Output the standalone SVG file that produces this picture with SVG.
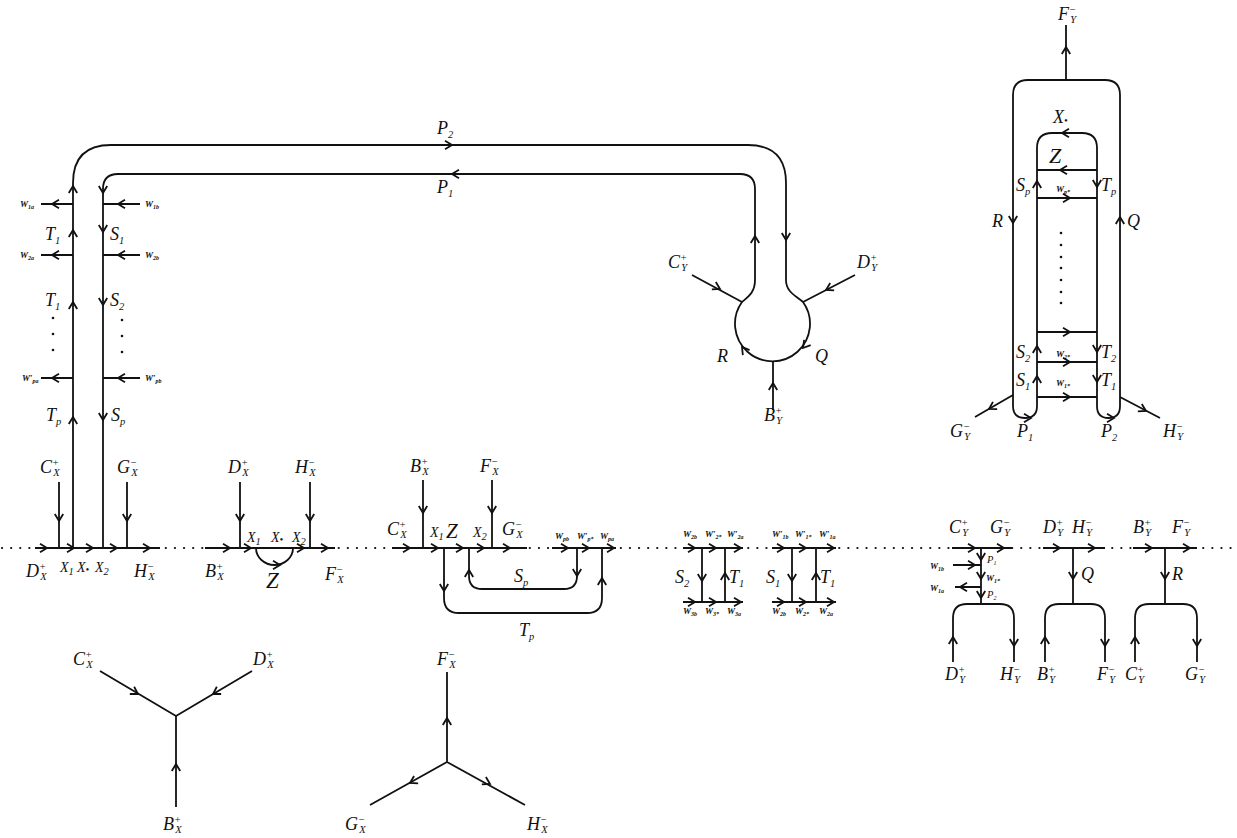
<svg xmlns="http://www.w3.org/2000/svg" width="1237" height="838" viewBox="0 0 1237 838">
<style>
.ln{fill:none;stroke:#111;stroke-width:1.8;stroke-linejoin:round}
.dt{fill:none;stroke:#111;stroke-width:2.2;stroke-dasharray:0.1 9;stroke-linecap:round}
.ah{fill:none;stroke:#111;stroke-width:1.8}
text{font-family:"Liberation Serif","Times New Roman",serif;font-style:italic;fill:#111}
.t{font-size:18px}
.m{font-size:14px}
.z{font-size:23px}
.u{font-size:10.5px}
.w{font-size:9px;font-weight:bold}
.v{font-size:6px}
.dot{fill:#111}
</style>
<defs><path id="a" class="ah" d="M-7,-4.2 L0,0 L-7,4.2"/></defs>
<rect width="1237" height="838" fill="#fff"/>

<g id="connectors">
<path class="dt" d="M2,548 L1237,548"/>
<!-- tube -->
<path class="ln" d="M73,548 L73,183 Q73,145 111,145 L748,145 Q786,145 786,183 L786,280 C786,292 796,296 803,302 A37.5,37.5 0 1 1 742,302 C749,296 755,292 755,280 L755,189 Q755,174 740,174 L118,174 Q103,174 103,189 L103,548"/>
<path class="ln" d="M41,204 L73,204 M103,204 L140,204 M41,255 L73,255 M103,255 L140,255 M41,378 L73,378 M103,378 L140,378"/>
<path class="ln" d="M692,275 L742,302 M855,275 L803,302 M773,361 L773,410"/>
<use href="#a" transform="translate(73,186) rotate(-90)"/>
<use href="#a" transform="translate(73,230) rotate(-90)"/>
<use href="#a" transform="translate(73,302) rotate(-90)"/>
<use href="#a" transform="translate(73,417) rotate(-90)"/>
<use href="#a" transform="translate(452,145)"/>
<use href="#a" transform="translate(786,240) rotate(90)"/>
<use href="#a" transform="translate(755,236) rotate(-90)"/>
<use href="#a" transform="translate(452,174) rotate(180)"/>
<use href="#a" transform="translate(103,193) rotate(90)"/>
<use href="#a" transform="translate(103,232) rotate(90)"/>
<use href="#a" transform="translate(103,305) rotate(90)"/>
<use href="#a" transform="translate(103,420) rotate(90)"/>
<use href="#a" transform="translate(52,204) rotate(180)"/>
<use href="#a" transform="translate(118,204) rotate(180)"/>
<use href="#a" transform="translate(52,255) rotate(180)"/>
<use href="#a" transform="translate(118,255) rotate(180)"/>
<use href="#a" transform="translate(52,378) rotate(180)"/>
<use href="#a" transform="translate(118,378) rotate(180)"/>
<use href="#a" transform="translate(803,348) rotate(129)"/>
<use href="#a" transform="translate(742,347) rotate(233)"/>
<use href="#a" transform="translate(720,289) rotate(28)"/>
<use href="#a" transform="translate(826,290) rotate(152)"/>
<use href="#a" transform="translate(773,383) rotate(-90)"/>

<!-- segment 1 -->
<path class="ln" d="M35,548 L160,548 M59,482 L59,548 M127,482 L127,548"/>
<use href="#a" transform="translate(47,548)"/>
<use href="#a" transform="translate(74,548)"/>
<use href="#a" transform="translate(93,548)"/>
<use href="#a" transform="translate(117,548)"/>
<use href="#a" transform="translate(150,548)"/>
<use href="#a" transform="translate(59,521) rotate(90)"/>
<use href="#a" transform="translate(127,521) rotate(90)"/>

<!-- segment 2 -->
<path class="ln" d="M205,548 L335,548 M240,482 L240,548 M310,482 L310,548 M256,548 A18.5,17 0 0 0 293,548"/>
<use href="#a" transform="translate(230,548)"/>
<use href="#a" transform="translate(251,548)"/>
<use href="#a" transform="translate(280,565)"/>
<use href="#a" transform="translate(304,548)"/>
<use href="#a" transform="translate(328,548)"/>
<use href="#a" transform="translate(240,521) rotate(90)"/>
<use href="#a" transform="translate(310,521) rotate(90)"/>

<!-- segment 3 -->
<path class="ln" d="M392,548 L527,548 M423,480 L423,548 M492,480 L492,548"/>
<path class="ln" d="M469,548 L469,576 Q469,589 482,589 L564,589 Q577,589 577,576 L577,548"/>
<path class="ln" d="M444,548 L444,598 Q444,613 459,613 L587,613 Q602,613 602,598 L602,548"/>
<path class="ln" d="M552,548 L616,548"/>
<use href="#a" transform="translate(410,548)"/>
<use href="#a" transform="translate(438,548)"/>
<use href="#a" transform="translate(463,548)"/>
<use href="#a" transform="translate(484,548)"/>
<use href="#a" transform="translate(510,548)"/>
<use href="#a" transform="translate(423,513) rotate(90)"/>
<use href="#a" transform="translate(492,513) rotate(90)"/>
<use href="#a" transform="translate(469,570) rotate(-90)"/>
<use href="#a" transform="translate(577,576) rotate(90)"/>
<use href="#a" transform="translate(444,591) rotate(90)"/>
<use href="#a" transform="translate(602,578) rotate(-90)"/>
<use href="#a" transform="translate(568,548)"/>
<use href="#a" transform="translate(589,548)"/>
<use href="#a" transform="translate(614,548)"/>

<!-- segments 5,6 -->
<path class="ln" d="M683,548 L743,548 M683,602 L743,602 M702,548 L702,602 M725,548 L725,602"/>
<path class="ln" d="M772,548 L836,548 M772,602 L836,602 M792,548 L792,602 M816,548 L816,602"/>
<use href="#a" transform="translate(695,548)"/>
<use href="#a" transform="translate(716,548)"/>
<use href="#a" transform="translate(741,548)"/>
<use href="#a" transform="translate(695,602)"/>
<use href="#a" transform="translate(716,602)"/>
<use href="#a" transform="translate(741,602)"/>
<use href="#a" transform="translate(702,581) rotate(90)"/>
<use href="#a" transform="translate(725,573) rotate(-90)"/>
<use href="#a" transform="translate(784,548)"/>
<use href="#a" transform="translate(806,548)"/>
<use href="#a" transform="translate(834,548)"/>
<use href="#a" transform="translate(784,602)"/>
<use href="#a" transform="translate(806,602)"/>
<use href="#a" transform="translate(834,602)"/>
<use href="#a" transform="translate(792,581) rotate(90)"/>
<use href="#a" transform="translate(816,573) rotate(-90)"/>

<!-- segments 7,8,9 -->
<path class="ln" d="M952,548 L1012,548 M981,548 L981,604 M953,565 L981,565 M981,587 L955,587 M953,662 L953,618 Q953,604 967,604 L1000,604 Q1014,604 1014,618 L1014,662"/>
<use href="#a" transform="translate(975,548)"/>
<use href="#a" transform="translate(1004,548)"/>
<use href="#a" transform="translate(981,560) rotate(90)"/>
<use href="#a" transform="translate(981,579) rotate(90)"/>
<use href="#a" transform="translate(981,598) rotate(90)"/>
<use href="#a" transform="translate(975,565)"/>
<use href="#a" transform="translate(960,587) rotate(180)"/>
<use href="#a" transform="translate(953,637) rotate(-90)"/>
<use href="#a" transform="translate(1014,646) rotate(90)"/>
<path class="ln" d="M1043,548 L1105,548 M1073,548 L1073,604 M1045,662 L1045,618 Q1045,604 1059,604 L1091,604 Q1105,604 1105,618 L1105,662"/>
<use href="#a" transform="translate(1060,548)"/>
<use href="#a" transform="translate(1095,548)"/>
<use href="#a" transform="translate(1073,579) rotate(90)"/>
<use href="#a" transform="translate(1045,637) rotate(-90)"/>
<use href="#a" transform="translate(1105,646) rotate(90)"/>
<path class="ln" d="M1133,548 L1197,548 M1165,548 L1165,604 M1135,662 L1135,618 Q1135,604 1149,604 L1183,604 Q1197,604 1197,618 L1197,662"/>
<use href="#a" transform="translate(1152,548)"/>
<use href="#a" transform="translate(1190,548)"/>
<use href="#a" transform="translate(1165,579) rotate(90)"/>
<use href="#a" transform="translate(1135,637) rotate(-90)"/>
<use href="#a" transform="translate(1197,646) rotate(90)"/>

<!-- top right -->
<path class="ln" d="M1037,406 L1037,148 Q1037,133 1052,133 L1082,133 Q1097,133 1097,148 L1097,406 Q1097,418 1108.5,418 Q1120,418 1120,406 L1120,95 Q1120,80 1105,80 L1028,80 Q1013,80 1013,95 L1013,406 Q1013,418 1025,418 Q1037,418 1037,406 Z"/>
<path class="ln" d="M1037,170 L1097,170 M1037,198 L1097,198 M1037,332 L1097,332 M1037,362 L1097,362 M1037,397 L1097,397 M1066,25 L1066,80 M1013,395 L975,417 M1120,397 L1160,418"/>
<use href="#a" transform="translate(1062,133) rotate(180)"/>
<use href="#a" transform="translate(1060,170) rotate(180)"/>
<use href="#a" transform="translate(1070,198)"/>
<use href="#a" transform="translate(1070,332)"/>
<use href="#a" transform="translate(1070,362)"/>
<use href="#a" transform="translate(1070,397)"/>
<use href="#a" transform="translate(1066,47) rotate(-90)"/>
<use href="#a" transform="translate(1037,181) rotate(-90)"/>
<use href="#a" transform="translate(1037,346) rotate(-90)"/>
<use href="#a" transform="translate(1037,376) rotate(-90)"/>
<use href="#a" transform="translate(1097,187) rotate(90)"/>
<use href="#a" transform="translate(1097,352) rotate(90)"/>
<use href="#a" transform="translate(1097,382) rotate(90)"/>
<use href="#a" transform="translate(1013,223) rotate(90)"/>
<use href="#a" transform="translate(1120,217) rotate(-90)"/>
<use href="#a" transform="translate(1031,418)"/>
<use href="#a" transform="translate(1114,418)"/>
<use href="#a" transform="translate(989,409) rotate(150)"/>
<use href="#a" transform="translate(1146,411) rotate(28)"/>

<!-- stars -->
<path class="ln" d="M100,671 L176,716 L252,671 M176,716 L176,807"/>
<use href="#a" transform="translate(138,694) rotate(31)"/>
<use href="#a" transform="translate(213,694) rotate(149)"/>
<use href="#a" transform="translate(176,764) rotate(-90)"/>
<path class="ln" d="M447,672 L447,762 M370,805 L447,762 L525,805"/>
<use href="#a" transform="translate(447,718) rotate(-90)"/>
<use href="#a" transform="translate(410,783) rotate(151)"/>
<use href="#a" transform="translate(490,784) rotate(29)"/>
</g>

<g id="tube-labels">
<text class="t" x="437" y="134">P<tspan class="u" dy="4">2</tspan></text>
<text class="t" x="437" y="193">P<tspan class="u" dy="4">1</tspan></text>
<text class="w" x="20" y="207">W<tspan class="v" dy="2">1a</tspan></text>
<text class="w" x="145" y="207">W<tspan class="v" dy="2">1b</tspan></text>
<text class="w" x="20" y="258">W<tspan class="v" dy="2">2a</tspan></text>
<text class="w" x="145" y="258">W<tspan class="v" dy="2">2b</tspan></text>
<text class="w" x="22" y="381">W′<tspan class="v" dy="2">pa</tspan></text>
<text class="w" x="145" y="381">W′<tspan class="v" dy="2">pb</tspan></text>
<text class="t" x="45" y="240">T<tspan class="u" dy="4">1</tspan></text>
<text class="t" x="110" y="240">S<tspan class="u" dy="4">1</tspan></text>
<text class="t" x="45" y="306">T<tspan class="u" dy="4">1</tspan></text>
<text class="t" x="110" y="306">S<tspan class="u" dy="4">2</tspan></text>
<text class="t" x="46" y="421">T<tspan class="u" dy="4">p</tspan></text>
<text class="t" x="111" y="421">S<tspan class="u" dy="4">p</tspan></text>
<circle class="dot" cx="53" cy="318" r="1.3"/><circle class="dot" cx="53" cy="334" r="1.3"/><circle class="dot" cx="53" cy="350" r="1.3"/>
<circle class="dot" cx="122" cy="320" r="1.3"/><circle class="dot" cx="122" cy="336" r="1.3"/><circle class="dot" cx="122" cy="352" r="1.3"/>
</g>

<g id="bulb-labels">
<text class="t" x="668" y="268">C<tspan class="u" dy="-7">+</tspan><tspan class="u" dx="-5.9" dy="10">Y</tspan></text>
<text class="t" x="857" y="268">D<tspan class="u" dy="-7">+</tspan><tspan class="u" dx="-5.9" dy="10">Y</tspan></text>
<text class="t" x="717" y="362">R</text>
<text class="t" x="815" y="362">Q</text>
<text class="t" x="764" y="421">B<tspan class="u" dy="-7">+</tspan><tspan class="u" dx="-5.9" dy="10">Y</tspan></text>
</g>

<g id="strip1-labels">
<text class="t" x="40" y="473">C<tspan class="u" dy="-7">+</tspan><tspan class="u" dx="-5.9" dy="10">X</tspan></text>
<text class="t" x="117" y="473">G<tspan class="u" dy="-7">−</tspan><tspan class="u" dx="-5.9" dy="10">X</tspan></text>
<text class="t" x="26" y="577">D<tspan class="u" dy="-7">+</tspan><tspan class="u" dx="-5.9" dy="10">X</tspan></text>
<text class="m" x="60" y="572">X<tspan class="u" dy="3">1</tspan></text>
<text class="m" x="77" y="572">X<tspan class="u" dy="1">•</tspan></text>
<text class="m" x="95" y="572">X<tspan class="u" dy="3">2</tspan></text>
<text class="t" x="134" y="577">H<tspan class="u" dy="-7">−</tspan><tspan class="u" dx="-5.9" dy="10">X</tspan></text>
</g>

<g id="strip2-labels">
<text class="t" x="228" y="473">D<tspan class="u" dy="-7">+</tspan><tspan class="u" dx="-5.9" dy="10">X</tspan></text>
<text class="t" x="295" y="473">H<tspan class="u" dy="-7">−</tspan><tspan class="u" dx="-5.9" dy="10">X</tspan></text>
<text class="m" x="247" y="542">X<tspan class="u" dy="3">1</tspan></text>
<text class="m" x="271" y="542">X<tspan class="u" dy="1">•</tspan></text>
<text class="m" x="292" y="542">X<tspan class="u" dy="3">2</tspan></text>
<text class="t" x="205" y="577">B<tspan class="u" dy="-7">+</tspan><tspan class="u" dx="-5.9" dy="10">X</tspan></text>
<text class="z" x="266" y="588">Z</text>
<text class="t" x="325" y="580">F<tspan class="u" dy="-7">−</tspan><tspan class="u" dx="-5.9" dy="10">X</tspan></text>
</g>

<g id="strip3-labels">
<text class="t" x="410" y="472">B<tspan class="u" dy="-7">+</tspan><tspan class="u" dx="-5.9" dy="10">X</tspan></text>
<text class="t" x="480" y="472">F<tspan class="u" dy="-7">−</tspan><tspan class="u" dx="-5.9" dy="10">X</tspan></text>
<text class="t" x="387" y="535">C<tspan class="u" dy="-7">+</tspan><tspan class="u" dx="-5.9" dy="10">X</tspan></text>
<text class="m" x="430" y="537">X<tspan class="u" dy="3">1</tspan></text>
<text class="z" x="446" y="538" style="font-size:21px">Z</text>
<text class="m" x="473" y="537">X<tspan class="u" dy="3">2</tspan></text>
<text class="t" x="502" y="535">G<tspan class="u" dy="-7">−</tspan><tspan class="u" dx="-5.9" dy="10">X</tspan></text>
<text class="w" x="555" y="539">W<tspan class="v" dy="2">pb</tspan></text>
<text class="w" x="577" y="539">W′<tspan class="v" dy="2">p*</tspan></text>
<text class="w" x="600" y="539">W<tspan class="v" dy="2">pa</tspan></text>
<text class="t" x="514" y="582">S<tspan class="u" dy="4">p</tspan></text>
<text class="t" x="519" y="636">T<tspan class="u" dy="4">p</tspan></text>
</g>

<g id="strip4-labels">
<text class="w" x="683" y="537">W<tspan class="v" dy="2">2b</tspan></text>
<text class="w" x="705" y="537">W′<tspan class="v" dy="2">2*</tspan></text>
<text class="w" x="727" y="537">W′<tspan class="v" dy="2">2a</tspan></text>
<text class="w" x="772" y="537">W′<tspan class="v" dy="2">1b</tspan></text>
<text class="w" x="795" y="537">W′<tspan class="v" dy="2">1*</tspan></text>
<text class="w" x="819" y="537">W′<tspan class="v" dy="2">1a</tspan></text>
<text class="w" x="683" y="614">W<tspan class="v" dy="2">3b</tspan></text>
<text class="w" x="705" y="614">W<tspan class="v" dy="2">3*</tspan></text>
<text class="w" x="727" y="614">W<tspan class="v" dy="2">3a</tspan></text>
<text class="w" x="772" y="614">W<tspan class="v" dy="2">2b</tspan></text>
<text class="w" x="795" y="614">W<tspan class="v" dy="2">2*</tspan></text>
<text class="w" x="819" y="614">W<tspan class="v" dy="2">2a</tspan></text>
<text class="t" x="675" y="583">S<tspan class="u" dy="4">2</tspan></text>
<text class="t" x="729" y="583">T<tspan class="u" dy="4">1</tspan></text>
<text class="t" x="766" y="583">S<tspan class="u" dy="4">1</tspan></text>
<text class="t" x="820" y="583">T<tspan class="u" dy="4">1</tspan></text>
</g>

<g id="strip5-labels">
<text class="t" x="949" y="533">C<tspan class="u" dy="-7">+</tspan><tspan class="u" dx="-5.9" dy="10">Y</tspan></text>
<text class="t" x="990" y="533">G<tspan class="u" dy="-7">−</tspan><tspan class="u" dx="-5.9" dy="10">Y</tspan></text>
<text class="t" x="1043" y="533">D<tspan class="u" dy="-7">+</tspan><tspan class="u" dx="-5.9" dy="10">Y</tspan></text>
<text class="t" x="1072" y="533">H<tspan class="u" dy="-7">−</tspan><tspan class="u" dx="-5.9" dy="10">Y</tspan></text>
<text class="t" x="1133" y="533">B<tspan class="u" dy="-7">+</tspan><tspan class="u" dx="-5.9" dy="10">Y</tspan></text>
<text class="t" x="1172" y="533">F<tspan class="u" dy="-7">−</tspan><tspan class="u" dx="-5.9" dy="10">Y</tspan></text>
<text class="u" x="987" y="563">P<tspan class="v" dy="2">1</tspan></text>
<text class="w" x="986" y="581">W<tspan class="v" dy="2">1*</tspan></text>
<text class="u" x="987" y="598">P<tspan class="v" dy="2">2</tspan></text>
<text class="w" x="930" y="569">W<tspan class="v" dy="2">1b</tspan></text>
<text class="w" x="930" y="591">W<tspan class="v" dy="2">1a</tspan></text>
<text class="t" x="1081" y="580">Q</text>
<text class="t" x="1172" y="580">R</text>
<text class="t" x="945" y="680">D<tspan class="u" dy="-7">+</tspan><tspan class="u" dx="-5.9" dy="10">Y</tspan></text>
<text class="t" x="1000" y="680">H<tspan class="u" dy="-7">−</tspan><tspan class="u" dx="-5.9" dy="10">Y</tspan></text>
<text class="t" x="1037" y="680">B<tspan class="u" dy="-7">+</tspan><tspan class="u" dx="-5.9" dy="10">Y</tspan></text>
<text class="t" x="1097" y="680">F<tspan class="u" dy="-7">−</tspan><tspan class="u" dx="-5.9" dy="10">Y</tspan></text>
<text class="t" x="1125" y="680">C<tspan class="u" dy="-7">+</tspan><tspan class="u" dx="-5.9" dy="10">Y</tspan></text>
<text class="t" x="1185" y="680">G<tspan class="u" dy="-7">−</tspan><tspan class="u" dx="-5.9" dy="10">Y</tspan></text>
</g>

<g id="topright-labels">
<text class="t" x="1058" y="20">F<tspan class="u" dy="-7">−</tspan><tspan class="u" dx="-5.9" dy="10">Y</tspan></text>
<text class="t" x="1053" y="123">X<tspan class="u" dy="1">•</tspan></text>
<text class="z" x="1049" y="163" style="font-size:22px">Z</text>
<text class="t" x="1016" y="191">S<tspan class="u" dy="4">p</tspan></text>
<text class="t" x="1101" y="191">T<tspan class="u" dy="4">p</tspan></text>
<text class="w" x="1056" y="192">W<tspan class="v" dy="2">p*</tspan></text>
<text class="t" x="992" y="227">R</text>
<text class="t" x="1127" y="227">Q</text>
<text class="t" x="1016" y="358">S<tspan class="u" dy="4">2</tspan></text>
<text class="t" x="1101" y="358">T<tspan class="u" dy="4">2</tspan></text>
<text class="w" x="1056" y="357">W<tspan class="v" dy="2">2*</tspan></text>
<text class="t" x="1016" y="386">S<tspan class="u" dy="4">1</tspan></text>
<text class="t" x="1101" y="386">T<tspan class="u" dy="4">1</tspan></text>
<text class="w" x="1056" y="386">W<tspan class="v" dy="2">1*</tspan></text>
<text class="t" x="950" y="437">G<tspan class="u" dy="-7">−</tspan><tspan class="u" dx="-5.9" dy="10">Y</tspan></text>
<text class="t" x="1017" y="437">P<tspan class="u" dy="4">1</tspan></text>
<text class="t" x="1101" y="437">P<tspan class="u" dy="4">2</tspan></text>
<text class="t" x="1163" y="437">H<tspan class="u" dy="-7">−</tspan><tspan class="u" dx="-5.9" dy="10">Y</tspan></text>
<circle class="dot" cx="1061" cy="233" r="1.3"/><circle class="dot" cx="1061" cy="245" r="1.3"/><circle class="dot" cx="1061" cy="257" r="1.3"/><circle class="dot" cx="1061" cy="268" r="1.3"/><circle class="dot" cx="1061" cy="280" r="1.3"/><circle class="dot" cx="1061" cy="292" r="1.3"/><circle class="dot" cx="1061" cy="303" r="1.3"/>
</g>

<g id="star-labels">
<text class="t" x="73" y="665">C<tspan class="u" dy="-7">+</tspan><tspan class="u" dx="-5.9" dy="10">X</tspan></text>
<text class="t" x="253" y="665">D<tspan class="u" dy="-7">+</tspan><tspan class="u" dx="-5.9" dy="10">X</tspan></text>
<text class="t" x="163" y="830">B<tspan class="u" dy="-7">+</tspan><tspan class="u" dx="-5.9" dy="10">X</tspan></text>
<text class="t" x="437" y="665">F<tspan class="u" dy="-7">−</tspan><tspan class="u" dx="-5.9" dy="10">X</tspan></text>
<text class="t" x="345" y="830">G<tspan class="u" dy="-7">−</tspan><tspan class="u" dx="-5.9" dy="10">X</tspan></text>
<text class="t" x="527" y="830">H<tspan class="u" dy="-7">−</tspan><tspan class="u" dx="-5.9" dy="10">X</tspan></text>
</g>
</svg>
